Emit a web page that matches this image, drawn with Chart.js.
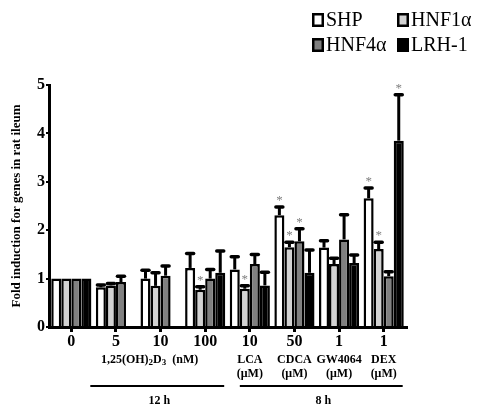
<!DOCTYPE html>
<html>
<head>
<meta charset="utf-8">
<script src="https://cdn.jsdelivr.net/npm/chart.js@4.4.1/dist/chart.umd.min.js"></script>
<style>
  html, body { margin: 0; background: #fff; }
</style>
</head>
<body>
<canvas id="chart" width="477" height="407"></canvas>
<script>
// ---------- data ----------
const doses = ['0', '5', '10', '100', '10', '50', '1', '1'];
const agents = [null, null, null, null, ['LCA', '(μM)'], ['CDCA', '(μM)'], ['GW4064', '(μM)'], ['DEX', '(μM)']];
const timeGroups = [{ label: '12 h', from: 0, to: 3 }, { label: '8 h', from: 4, to: 7 }];

const seriesNames = ['SHP', 'HNF1α', 'HNF4α', 'LRH-1'];
const shp     = [1.00, 0.82, 1.00, 1.22, 1.19, 2.31, 1.64, 2.66];
const hnf1a   = [1.00, 0.86, 0.85, 0.77, 0.79, 1.65, 1.30, 1.61];
const hnf4a   = [1.00, 0.93, 1.06, 1.00, 1.30, 1.77, 1.81, 1.05];
const lrh1    = [1.00, null, null, 1.12, 0.86, 1.12, 1.32, 3.85];
const shpErr   = [0, 0.05, 0.17, 0.30, 0.26, 0.17, 0.14, 0.21];
const hnf1aErr = [0, 0.04, 0.27, 0.06, 0.06, 0.10, 0.12, 0.14];
const hnf4aErr = [0, 0.12, 0.20, 0.19, 0.20, 0.26, 0.51, 0.09];
const lrh1Err  = [0, 0, 0, 0.45, 0.27, 0.47, 0.17, 0.95];
const shpStar   = [0, 0, 0, 0, 0, 1, 0, 1];
const hnf1aStar = [0, 0, 0, 1, 1, 1, 0, 1];
const hnf4aStar = [0, 0, 0, 0, 0, 1, 0, 0];
const lrh1Star  = [0, 0, 0, 0, 0, 0, 0, 1];

const fills = ['#ffffff', '#d2d2d2', '#808080', '#000000'];
const errs = [shpErr, hnf1aErr, hnf4aErr, lrh1Err];
const stars = [shpStar, hnf1aStar, hnf4aStar, lrh1Star];
const SERIF = '"Liberation Serif", "Times New Roman", serif';

// ---------- error bars, stars, bottom labels, legend ----------
const extras = {
  id: 'extras',
  afterDatasetsDraw(chart) {
    const { ctx, scales: { y } } = chart;
    ctx.save();
    chart.data.datasets.forEach((ds, di) => {
      chart.getDatasetMeta(di).data.forEach((bar, i) => {
        const v = ds.data[i];
        if (v == null) return;
        const e = errs[di][i];
        const yTop = y.getPixelForValue(v + e);
        if (e > 0) {
          ctx.strokeStyle = '#000';
          ctx.lineWidth = 3; ctx.lineCap = 'butt';
          ctx.beginPath(); ctx.moveTo(bar.x, bar.y); ctx.lineTo(bar.x, yTop); ctx.stroke();
          ctx.lineWidth = 3.5; ctx.lineCap = 'round';
          ctx.beginPath(); ctx.moveTo(bar.x - 3.5, yTop); ctx.lineTo(bar.x + 3.5, yTop); ctx.stroke();
        }
        if (stars[di][i]) {
          ctx.fillStyle = '#808080';
          ctx.font = '13px ' + SERIF;
          ctx.textAlign = 'center'; ctx.textBaseline = 'alphabetic';
          ctx.fillText('*', bar.x, yTop - 3);
        }
      });
    });
    ctx.restore();
  },
  afterDraw(chart) {
    const { ctx, scales: { x } } = chart;
    ctx.save();
    ctx.fillStyle = '#000';
    ctx.textAlign = 'center'; ctx.textBaseline = 'middle';

    // 1,25(OH)2D3 (nM)
    const cx = (x.getPixelForValue(1) + x.getPixelForValue(3)) / 2 - 11;
    const parts = [['1,25(OH)', 12, 0], ['2', 9, 3], ['D', 12, 0], ['3', 9, 3], ['  (nM)', 12, 0]];
    let total = 0;
    parts.forEach(p => { ctx.font = 'bold ' + p[1] + 'px ' + SERIF; total += ctx.measureText(p[0]).width; });
    let px = cx - total / 2;
    ctx.textAlign = 'left';
    parts.forEach(p => {
      ctx.font = 'bold ' + p[1] + 'px ' + SERIF;
      ctx.fillText(p[0], px, 360 + p[2]);
      px += ctx.measureText(p[0]).width;
    });

    // agent labels
    ctx.textAlign = 'center';
    ctx.font = 'bold 12px ' + SERIF;
    agents.forEach((a, i) => {
      if (!a) return;
      const ax = x.getPixelForValue(i);
      a.forEach((line, k) => ctx.fillText(line, ax, 360 + k * 14));
    });

    // treatment time
    ctx.strokeStyle = '#000'; ctx.lineWidth = 2;
    timeGroups.forEach(g => {
      const x0 = x.getPixelForValue(g.from) + (g.from === 0 ? 19 : -10);
      const x1 = x.getPixelForValue(g.to) + 19;
      ctx.beginPath(); ctx.moveTo(x0, 386); ctx.lineTo(x1, 386); ctx.stroke();
      ctx.fillText(g.label, (x0 + x1) / 2 + 2, 401);
    });

    // legend
    const cols = [312, 397], rows = [20, 45];
    ctx.font = '20px ' + SERIF;
    ctx.textAlign = 'left';
    chart.data.datasets.forEach((ds, di) => {
      const lx = cols[di % 2 === 0 ? 0 : 1];
      const ly = rows[di < 2 ? 0 : 1];
      ctx.fillStyle = ds.backgroundColor;
      ctx.fillRect(lx, ly - 7, 12, 14);
      ctx.lineWidth = 2.5; ctx.strokeStyle = '#000';
      ctx.strokeRect(lx + 1.25, ly - 5.75, 9.5, 11.5);
      ctx.fillStyle = '#000';
      ctx.fillText(ds.label, lx + 14, ly + 1);
    });
    ctx.restore();
  }
};

const datasets = [shp, hnf1a, hnf4a, lrh1].map((d, i) => ({
  label: seriesNames[i],
  data: d,
  backgroundColor: fills[i],
  borderColor: '#000',
  borderWidth: 2.5,
  borderSkipped: 'bottom',
  categoryPercentage: 0.9,
  barPercentage: 1.0
}));

new Chart(document.getElementById('chart'), {
  type: 'bar',
  data: { labels: doses, datasets },
  plugins: [extras],
  options: {
    responsive: false,
    animation: false,
    layout: { padding: { left: 0, top: 85, right: 71, bottom: 0 } },
    plugins: { legend: { display: false }, tooltip: { enabled: false } },
    scales: {
      x: {
        afterFit(s) { s.height = 80; },
        grid: { offset: false, drawOnChartArea: false, drawTicks: true, tickLength: 5, color: '#000', lineWidth: 3 },
        border: { display: true, color: '#000', width: 3 },
        ticks: { color: '#000', padding: 0, font: { family: SERIF, size: 16, weight: 'bold' } }
      },
      y: {
        min: 0, max: 5,
        afterFit(s) { s.width = 49; },
        grid: { drawOnChartArea: false, drawTicks: true, tickLength: 3, color: '#000', lineWidth: 2 },
        border: { display: true, color: '#000', width: 3 },
        ticks: { stepSize: 1, color: '#000', padding: 1, font: { family: SERIF, size: 16, weight: 'bold' } },
        title: {
          display: true, text: 'Fold induction for genes in rat ileum', color: '#000',
          padding: { top: 9, bottom: 6 },
          font: { family: SERIF, size: 13, weight: 'bold' }
        }
      }
    }
  }
});
</script>
</body>
</html>
